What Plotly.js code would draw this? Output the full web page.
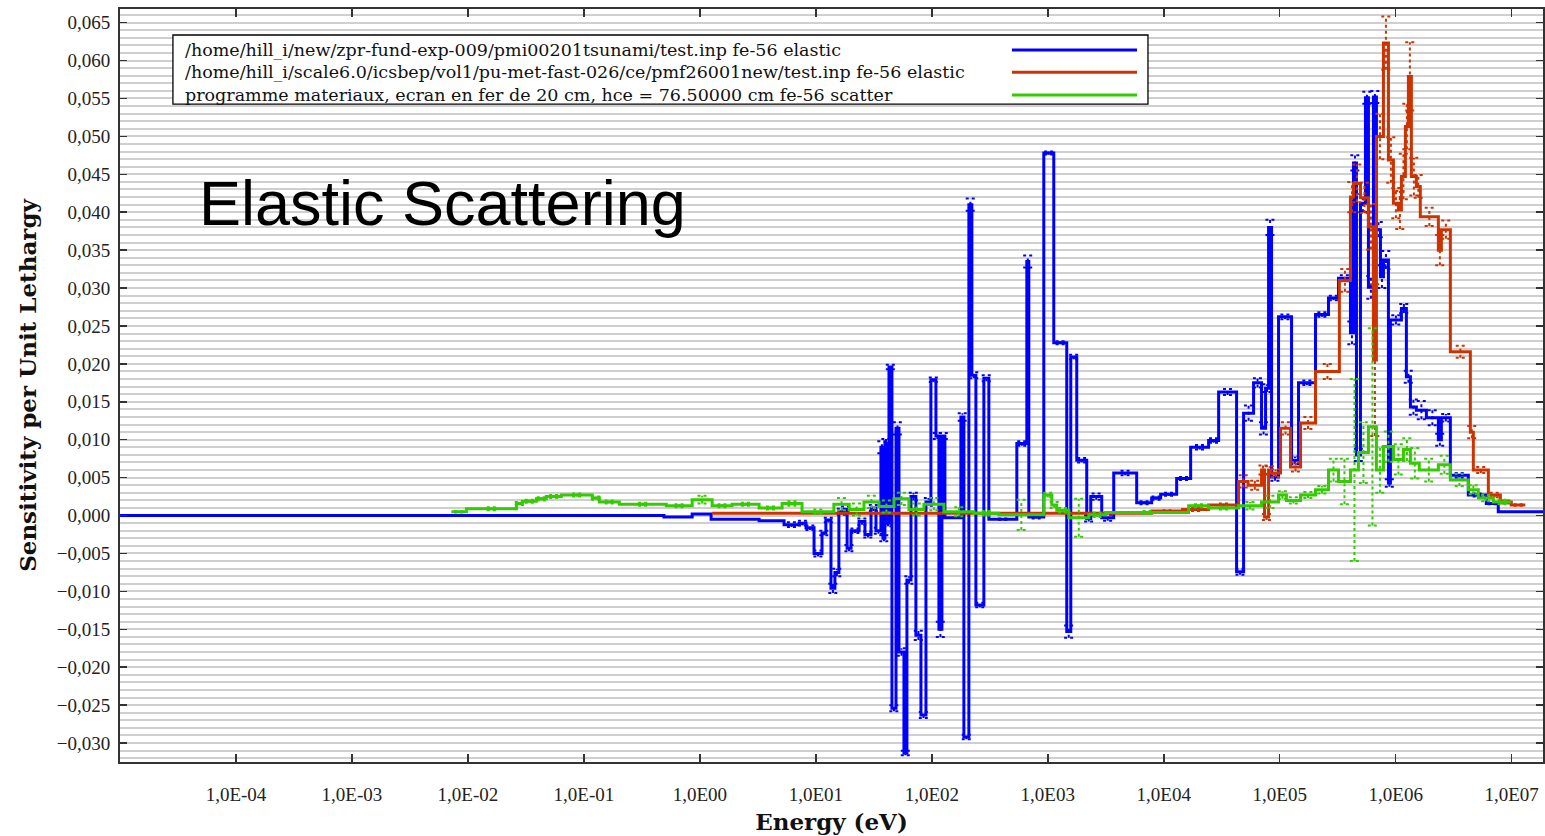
<!DOCTYPE html>
<html><head><meta charset="utf-8">
<script src="https://cdn.plot.ly/plotly-3.0.1.min.js"></script>
<style>html,body{margin:0;padding:0;background:#fff;} #chart{width:1545px;height:836px;}</style>
</head><body><div id="chart"></div>
<script>
// ---------- data ----------
const SERIES_NAMES = [
  "/home/hill_i/new/zpr-fund-exp-009/pmi00201tsunami/test.inp fe-56 elastic",
  "/home/hill_i/scale6.0/icsbep/vol1/pu-met-fast-026/ce/pmf26001new/test.inp fe-56 elastic",
  "programme materiaux, ecran en fer de 20 cm, hce = 76.50000 cm fe-56 scatter"
];
const SERIES_COLORS = ["#0000ff", "#cc3300", "#33cc00"];

const X_TICKS = [1e-4, 1e-3, 1e-2, 1e-1, 1e0, 1e1, 1e2, 1e3, 1e4, 1e5, 1e6, 1e7];
const X_TICK_LABELS = ["1,0E-04","1,0E-03","1,0E-02","1,0E-01","1,0E00","1,0E01","1,0E02","1,0E03","1,0E04","1,0E05","1,0E06","1,0E07"];

// blue: bin edges (eV), sensitivity per bin, uncertainty per bin
const BLUE_EDGES = [1e-5, 0.49, 0.858, 1.25, 3.24, 5.32, 7.17, 8.23, 9.65, 11.3, 12.2, 13.5, 14.6, 15.8, 17.5, 18.6, 20.1, 23.6, 26.5, 29.9, 33.0, 36.4, 37.9, 39.4, 41.1, 42.7, 45.3, 49.1, 52.1, 57.5, 61.0, 66.1, 72.9, 80.6, 89.0, 98.2, 108.5, 115.1, 122.2, 129.7, 178.1, 189.0, 208.7, 221.5, 239.9, 281.1, 310.3, 540.8, 659.4, 686.1, 923.6, 1126, 1457, 1578, 1777, 2167, 2347, 2918, 3703, 5842, 7866, 9403, 12915, 17050, 24360, 29720, 42450, 48780, 59490, 69680, 75480, 80090, 85000, 97650, 126400, 145200, 203400, 263200, 321000, 407200, 432200, 458700, 496500, 548300, 581800, 642500, 681800, 738500, 783800, 865300, 900300, 1.12e6, 1.236e6, 1.339e6, 1.508e6, 1.839e6, 2.332e6, 2.475e6, 2.959e6, 4.228e6, 6.04e6, 7.66e6, 2e7];
const BLUE_VALUES = [0, -0.0002, 0.0002, -0.0005, -0.0007, -0.0012, -0.0010, -0.0016, -0.0050, -0.0023,
  -0.0006, -0.0096, -0.0075, 0.0005, 0.0008, -0.0043, -0.0020, -0.0008, -0.0025, 0.0010,
  -0.0020, 0.0090, -0.0030, 0.0095, -0.0010, 0.0196, -0.0254, 0.0115, -0.0180, -0.0313,
  -0.0085, 0.0025, -0.0158, -0.0263, 0.0018, 0.0179, 0.0105, -0.0150, 0.0105, -0.0003,
  0.0130, -0.0292, 0.0410, 0.0185, -0.0118, 0.0181, -0.0005, 0.0095, 0.0335, -0.0002,
  0.0478, 0.0228, -0.0153, 0.0209, 0.0073, -0.0004, 0.0025, -0.0003, 0.0056, 0.0017,
  0.0023, 0.0028, 0.0049, 0.0090, 0.0099, 0.0163, -0.0074, 0.0135, 0.0175, 0.0115,
  0.0168, 0.0380, 0.0051, 0.0262, 0.0073, 0.0175, 0.0265, 0.0287, 0.0313, 0.0241,
  0.0465, 0.0080, 0.0412, 0.0551, 0.0301, 0.0552, 0.0377, 0.0315, 0.0337, 0.0043,
  0.0258, 0.0273, 0.0183, 0.0143, 0.0139, 0.0129, 0.0100, 0.0129, 0.0053, 0.0027,
  0.0016, 0.0005];
const BLUE_ERRORS = [0, 0, 0, 0, 0, 0.0003, 0.0003, 0.0003, 0.0004, 0.0003,
  0.0003, 0.0006, 0.0005, 0.0004, 0.0004, 0.0004, 0.0003, 0.0004, 0.0004, 0.0004,
  0.0004, 0.0008, 0.0004, 0.0006, 0.0004, 0.0003, 0.0004, 0.0008, 0.0005, 0.0003,
  0.0005, 0.0005, 0.0006, 0.0004, 0.0005, 0.0003, 0.0004, 0.0010, 0.0004, 0,
  0.0005, 0.0003, 0.0008, 0.0004, 0.0003, 0.0004, 0.0001, 0.0003, 0.0008, 0.0002,
  0.0002, 0.0002, 0.0008, 0.0003, 0.0003, 0.0004, 0.0004, 0.0004, 0.0003, 0.0002,
  0.0002, 0.0002, 0.0002, 0.0003, 0.0003, 0.0004, 0.0004, 0.0010, 0.0006, 0.0008,
  0.0005, 0.0010, 0.0005, 0.0003, 0.0005, 0.0003, 0.0003, 0.0003, 0.0004, 0.0015,
  0.0010, 0.0008, 0.0012, 0.0008, 0.0015, 0.0008, 0.0010, 0.0015, 0.0012, 0.0005,
  0.0006, 0.0006, 0.0008, 0.0010, 0.0012, 0.0010, 0.0008, 0.0005, 0.0003, 0.0002,
  0.0001, 0];

// orange
const ORANGE_EDGES = [1.276, 7866, 14550, 24360, 44170, 53330, 69680, 73970, 80090, 83340, 101600, 123900, 151100, 203400, 326800, 407200, 432200, 496500, 581800, 642500, 681800, 783800, 865300, 955500, 1.055e6, 1.12e6, 1.212e6, 1.286e6, 1.365e6, 1.508e6, 1.629e6, 2.332e6, 2.475e6, 2.959e6, 4.40e6, 4.67e6, 6.29e6, 7.98e6, 9.92e6, 1.31e7];
const ORANGE_VALUES = [0.0003, 0.0006, 0.0008, 0.0014, 0.0045, 0.0040, 0.0060, -0.0002, 0.0060, 0.0056,
  0.0115, 0.0064, 0.0122, 0.0190, 0.0310, 0.0420, 0.0438, 0.0419, 0.0381, 0.0205,
  0.0500, 0.0623, 0.0469, 0.0412, 0.0403, 0.0447, 0.0513, 0.0579, 0.0447, 0.0434,
  0.0394, 0.0350, 0.0377, 0.0216, 0.0110, 0.0060, 0.0027, 0.0018, 0.0014];
const ORANGE_ERRORS = [0, 0.0001, 0.0002, 0.0002, 0.0008, 0.0006, 0.0006, 0.0004, 0.0005, 0.0005,
  0.0008, 0.0006, 0.0008, 0.0010, 0.0015, 0.0020, 0.0025, 0.0020, 0.0030, 0.0100,
  0.0030, 0.0035, 0.0030, 0.0020, 0.0025, 0.0030, 0.0030, 0.0045, 0.0025, 0.0015,
  0.0012, 0.0020, 0.0012, 0.0008, 0.0008, 0.0004, 0.0003, 0.0002, 0.0001];

// green
const GREEN_EDGES = [0.0072, 0.0097, 0.0262, 0.0295, 0.0389, 0.0474, 0.0639, 0.118, 0.136, 0.202, 0.513, 0.858, 1.276, 1.897, 3.24, 5.12, 7.60, 14.3, 19.4, 26.0, 35.0, 47.2, 63.5, 85.5, 127.1, 230.5, 378.4, 923.6, 1083, 1195, 1517, 2256, 3159, 16390, 24360, 44170, 69680, 97650, 114200, 151100, 203400, 263200, 321000, 407200, 477200, 581800, 681800, 783800, 955500, 1.165e6, 1.339e6, 1.597e6, 2.332e6, 2.959e6, 4.228e6, 5.156e6, 6.94e6, 9.92e6];
const GREEN_VALUES = [0.0005, 0.0009, 0.0016, 0.0019, 0.0022, 0.0025, 0.0027, 0.0023, 0.0018, 0.0015,
  0.0013, 0.0021, 0.0013, 0.0015, 0.0010, 0.0016, 0.0005, 0.0015, 0.0008, 0.0018,
  0.0012, 0.0022, 0.0008, 0.0015, 0.0005, 0.0003, 0.0001, 0.0027, 0.0014, 0.0007,
  -0.0003, 0.0001, 0.0004, 0.0013, 0.0010, 0.0013, 0.0018, 0.0027, 0.0020, 0.0027,
  0.0034, 0.0060, 0.0045, 0.0060, 0.0083, 0.0117, 0.0060, 0.0091, 0.0074, 0.0087,
  0.0069, 0.0060, 0.0067, 0.0047, 0.0034, 0.0023, 0.0018];
const GREEN_ERRORS = [0.0001, 0.0002, 0.0002, 0.0002, 0.0002, 0.0002, 0.0002, 0.0002, 0.0002, 0.0002,
  0.0002, 0.0005, 0.0002, 0.0002, 0.0002, 0.0003, 0.0003, 0.0008, 0.0008, 0.0008,
  0.0008, 0.0008, 0.0008, 0.0008, 0.0006, 0.0003, 0.0020, 0.0003, 0.0004, 0.0003,
  0.0025, 0.0003, 0.0002, 0.0002, 0.0002, 0.0005, 0.0008, 0.0005, 0.0004, 0.0004,
  0.0005, 0.0015, 0.0030, 0.0120, 0.0040, 0.0130, 0.0030, 0.0020, 0.0020, 0.0015,
  0.0020, 0.0015, 0.0012, 0.0008, 0.0006, 0.0004, 0.0003];

// ---------- build ----------
const SERIES = [
  {edges: BLUE_EDGES, values: BLUE_VALUES, errors: BLUE_ERRORS},
  {edges: ORANGE_EDGES, values: ORANGE_VALUES, errors: ORANGE_ERRORS},
  {edges: GREEN_EDGES, values: GREEN_VALUES, errors: GREEN_ERRORS}
];

const traces = [];
SERIES.forEach((s, k) => {
  const n = s.values.length;
  const xs = s.edges.slice(0, n + 1);
  const ys = s.values.concat([s.values[n - 1]]);
  // error bars as dotted segments with caps at bin centres
  const ex = [], ey = [];
  const capF = Math.pow(10, 0.04);
  for (let i = 0; i < n; i++) {
    const e = s.errors[i];
    if (!e) continue;
    const c = Math.sqrt(s.edges[i] * s.edges[i + 1]);
    const lo = s.values[i] - e, hi = s.values[i] + e;
    ex.push(c, c, null, c / capF, c * capF, null, c / capF, c * capF, null);
    ey.push(lo, hi, null, hi, hi, null, lo, lo, null);
  }
  traces.push({
    x: xs, y: ys, type: 'scatter', mode: 'lines', name: SERIES_NAMES[k],
    line: {shape: 'hv', color: SERIES_COLORS[k], width: 3}, hoverinfo: 'skip'
  });
  traces.push({
    x: ex, y: ey, type: 'scatter', mode: 'lines', showlegend: false,
    line: {color: SERIES_COLORS[k], width: 2, dash: 'dot'}, hoverinfo: 'skip', connectgaps: false
  });
});

// custom legend box (lines drawn on the right, as in the original)
const LEG = {x0: 0.0372, x1: 0.7224, y0: 0.8738, y1: 0.9655, lineX0: 0.6268, lineX1: 0.7147, rows: [0.9456, 0.9160, 0.8858], textX: 0.0443};
const shapes = [{type: 'rect', xref: 'paper', yref: 'paper', x0: LEG.x0, x1: LEG.x1, y0: LEG.y0, y1: LEG.y1,
  line: {color: '#000', width: 1.3}, fillcolor: '#fff', layer: 'above'}];
const annotations = [];
SERIES_NAMES.forEach((name, k) => {
  shapes.push({type: 'line', xref: 'paper', yref: 'paper', x0: LEG.lineX0, x1: LEG.lineX1, y0: LEG.rows[k], y1: LEG.rows[k],
    line: {color: SERIES_COLORS[k], width: 3}, layer: 'above'});
  annotations.push({xref: 'paper', yref: 'paper', x: LEG.textX, y: LEG.rows[k], xanchor: 'left', yanchor: 'middle',
    text: name, showarrow: false, font: {family: 'DejaVu Serif, serif', size: 17.5, color: '#111'}});
});
annotations.push({xref: 'paper', yref: 'paper', x: 0.2263, y: 0.7424, xanchor: 'center', yanchor: 'middle',
  text: 'Elastic Scattering', showarrow: false, font: {family: 'Liberation Sans, Arial, sans-serif', size: 63, color: '#000'}});

const axisCommon = {
  showline: true, linecolor: '#333', linewidth: 2, mirror: 'ticks',
  ticks: 'inside', tickcolor: '#333', tickwidth: 1.5, zeroline: false, automargin: false
};

const layout = {
  width: 1545, height: 836,
  margin: {l: 120, r: 2, t: 9, b: 74, pad: 0},
  paper_bgcolor: '#fff', plot_bgcolor: '#fff',
  separators: ',.',
  showlegend: false,
  font: {family: 'Liberation Serif, serif', color: '#222'},
  xaxis: Object.assign({}, axisCommon, {
    type: 'log', range: [-5, 7.27], tickmode: 'array', tickvals: X_TICKS, ticktext: X_TICK_LABELS,
    ticklen: 8, showgrid: false, tickfont: {size: 19, color: '#222'}, ticklabelstandoff: 14,
    title: {text: 'Energy (eV)', font: {family: 'DejaVu Serif, serif', size: 23, weight: 'bold', color: '#111'}, standoff: 10}
  }),
  yaxis: Object.assign({}, axisCommon, {
    range: [-0.0325, 0.0668], tick0: 0, dtick: 0.005, tickformat: '.3f', ticklen: 7,
    showgrid: true, gridcolor: '#cfcfcf', gridwidth: 2,
    minor: {dtick: 0.001, showgrid: true, gridcolor: '#cfcfcf', gridwidth: 2},
    tickfont: {size: 19, color: '#222'}, ticklabelstandoff: 4,
    title: {text: 'Sensitivity per Unit Lethargy', font: {family: 'DejaVu Serif, serif', size: 23, weight: 'bold', color: '#111'}, standoff: 14}
  }),
  shapes: shapes,
  annotations: annotations
};

Plotly.newPlot('chart', traces, layout, {staticPlot: true, displayModeBar: false});
</script>
</body></html>
